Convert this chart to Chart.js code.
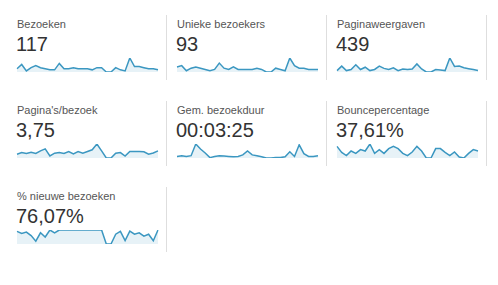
<!DOCTYPE html>
<html>
<head>
<meta charset="utf-8">
<script src="https://cdn.jsdelivr.net/npm/chart.js@4"></script>
<style>
  html, body { margin: 0; padding: 0; background: #fff; }
  body { width: 498px; height: 285px; position: relative; overflow: hidden;
         font-family: Arial, "Liberation Sans", sans-serif; }
  .title { position: absolute; font-size: 11px; line-height: 13px; color: #555; white-space: nowrap; }
  .value { position: absolute; font-size: 20px; line-height: 24px; color: #333; white-space: nowrap; }
  .sep { position: absolute; width: 1px; height: 65px; background: #dedede; }
  canvas { position: absolute; }
</style>
</head>
<body>
<script>
const days = ["1","2","3","4","5","6","7","8","9","10","11","12","13","14","15","16",
  "17","18","19","20","21","22","23","24","25","26","27","28","29","30","31"];

const titles = ["Bezoeken", "Unieke bezoekers", "Paginaweergaven", "Pagina's/bezoek",
  "Gem. bezoekduur", "Bouncepercentage", "% nieuwe bezoeken"];
const totals = ["117", "93", "439", "3,75", "00:03:25", "37,61%", "76,07%"];

const bezoeken = [3,7,1,4,6,4,3,2,2,8,3,3,4,3,3,3,2,4,4,0,0,4,2,1,13,5,5,4,3,3,2];
const uniekeBezoekers = [4,5,1,3,4,3,2,1,2,7,3,2,4,2,2,2,2,3,2,0,0,3,2,1,11,5,3,3,2,2,2];
const paginaweergaven = [5,21,5,9,26,9,17,5,9,21,13,9,15,5,11,9,11,29,11,0,0,9,7,5,50,20,21,15,12,9,5];
const paginasPerBezoek = [2.0,2.9,2.4,3.1,2.4,3.8,4.9,1.1,2.6,2.9,2.4,3.5,2.2,3.5,2.6,3.5,4.4,7.5,3.8,0,0,2.6,2.9,1.0,3.5,3.5,3.5,3.3,2.0,2.7,3.8];
const bezoekduur = [80,120,80,120,720,460,260,20,80,120,100,80,60,80,160,360,160,120,60,0,0,20,20,60,320,80,680,220,80,80,120];
const bouncepercentage = [83,40,17,50,33,60,50,100,33,60,33,67,83,67,33,17,43,83,50,0,0,67,67,40,17,43,7,0,33,60,50];
const nieuweBezoeken = [90,75,85,60,20,80,50,100,80,100,100,100,100,100,100,100,100,100,100,0,0,70,90,25,92,70,80,56,70,23,100];

const series = [bezoeken, uniekeBezoekers, paginaweergaven, paginasPerBezoek,
  bezoekduur, bouncepercentage, nieuweBezoeken];

const colPitch = 160, rowPitch = 86;

titles.forEach((t, i) => {
  const col = i % 3, row = Math.floor(i / 3);
  const x = 17 + col * colPitch, y = row * rowPitch;

  const title = document.createElement("div");
  title.className = "title";
  title.style.left = x + "px";
  title.style.top = (18 + y) + "px";
  title.textContent = t;
  document.body.appendChild(title);

  const value = document.createElement("div");
  value.className = "value";
  value.style.left = (x - 1) + "px";
  value.style.top = (32 + y) + "px";
  value.textContent = totals[i];
  document.body.appendChild(value);

  const sep = document.createElement("div");
  sep.className = "sep";
  sep.style.left = (166 + col * colPitch) + "px";
  sep.style.top = (15 + y) + "px";
  document.body.appendChild(sep);

  const canvas = document.createElement("canvas");
  canvas.width = 145;
  canvas.height = 18;
  canvas.style.left = (x - 2) + "px";
  canvas.style.top = (56 + y) + "px";
  document.body.appendChild(canvas);

  const data = series[i];
  new Chart(canvas, {
    type: "line",
    data: {
      labels: days,
      datasets: [
        {
          data: data,
          borderColor: "#3b97c1",
          backgroundColor: "rgba(59,151,193,0.12)",
          borderWidth: 1.5,
          pointRadius: 0,
          tension: 0,
          fill: "start",
        },
      ],
    },
    options: {
      responsive: false,
      animation: false,
      layout: { padding: { left: 2, right: 2, top: 2, bottom: 2 } },
      plugins: { legend: { display: false }, tooltip: { enabled: false } },
      scales: {
        x: { display: false },
        y: { display: false, min: 0, max: Math.max(...data) },
      },
    },
  });
});
</script>
</body>
</html>
